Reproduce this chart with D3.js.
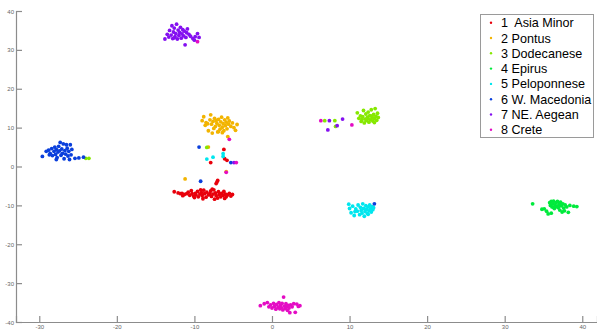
<!DOCTYPE html>
<html><head><meta charset="utf-8">
<script src="https://cdn.jsdelivr.net/npm/d3@7"></script>
<style>body{margin:0;background:#fff;}svg{display:block;}</style>
</head><body>
<svg id="c" width="597" height="329"></svg>
<script>
const seriesNames = ["1  Asia Minor","2 Pontus","3 Dodecanese","4 Epirus","5 Peloponnese","6 W. Macedonia","7 NE. Aegean","8 Crete"];
const seriesColors = ["#e8000b","#f2b400","#86e800","#00ea3c","#00e6ee","#0a3fdc","#8410f0","#e40cc4"];
const xTicks = [-30,-20,-10,0,10,20,30,40];
const yTicks = [40,30,20,10,0,-10,-20,-30,-40];

const asiaMinor = [[-12.6,-6.5],[-12.1,-6.8],[-11.8,-7.0],[-11.6,-6.9],[-11.3,-7.2],[-11.0,-7.0],[-10.8,-6.6],[-10.6,-7.4],[-10.4,-6.2],[-10.3,-7.0],[-10.1,-7.6],[-9.9,-6.9],[-9.8,-7.3],[-9.6,-6.4],[-9.5,-7.8],[-9.3,-7.1],[-9.1,-6.7],[-9.0,-7.5],[-8.8,-6.1],[-8.7,-7.0],[-8.5,-7.9],[-8.4,-6.6],[-8.2,-7.3],[-8.0,-7.0],[-7.9,-6.3],[-7.8,-7.7],[-7.6,-7.1],[-7.5,-6.0],[-7.3,-6.8],[-7.2,-7.5],[-7.0,-8.1],[-6.9,-6.5],[-6.8,-7.2],[-6.6,-7.8],[-6.5,-6.9],[-6.3,-7.4],[-6.2,-6.4],[-6.0,-7.1],[-5.9,-7.8],[-5.7,-7.3],[-5.5,-6.9],[-5.3,-7.6],[-5.1,-7.2],[-11.5,-7.5],[-10.0,-8.0],[-8.9,-8.3],[-7.4,-8.4],[-6.1,-8.2],[-9.2,-6.0],[-7.7,-5.8],
  [-6.2,4.4],[-6.1,2.0],[-5.8,1.6],[-7.9,1.0],[-7.1,-4.0],[-7.2,-4.4],[-7.0,-3.6]];
const pontus = [[-9.0,11.8],[-8.8,12.8],[-8.6,10.6],[-8.5,11.3],[-8.2,9.2],[-8.0,12.0],[-7.9,13.3],[-7.8,10.9],[-7.6,11.6],[-7.5,9.8],[-7.4,12.4],[-7.3,10.3],[-7.1,11.1],[-7.0,8.9],[-6.9,12.1],[-6.8,10.6],[-6.7,9.6],[-6.6,11.5],[-6.5,12.7],[-6.4,10.1],[-6.3,11.0],[-6.2,9.2],[-6.1,12.0],[-6.0,10.5],[-5.9,11.4],[-5.8,9.7],[-5.7,12.5],[-5.6,10.9],[-5.5,11.7],[-5.3,10.3],[-5.1,11.2],[-4.9,10.0],[-4.7,9.3],[-4.5,10.8],[-7.7,8.6],[-6.9,9.0],[-8.3,11.0],[-7.2,11.8],[-6.4,8.7],
  [-11.2,-3.2],[-5.7,7.7],[-8.2,5.0],[-5.9,-1.3]];
const dodecanese = [[11.0,13.8],[11.2,12.4],[11.4,13.0],[11.5,11.6],[11.7,12.8],[11.8,14.4],[11.9,11.2],[12.0,12.2],[12.1,13.5],[12.2,11.8],[12.3,12.7],[12.4,14.0],[12.5,11.4],[12.6,13.1],[12.7,12.0],[12.8,14.6],[12.9,12.6],[13.0,11.7],[13.1,13.4],[13.2,12.3],[13.3,14.9],[13.4,12.9],[13.5,11.9],[13.6,13.7],[13.7,12.6],[12.4,12.3],[12.9,13.0],[11.6,12.1],[13.2,11.3],
  [6.8,11.8],[8.1,11.8],[8.2,10.3],[-24.0,2.1],[-23.6,2.1],[-8.4,4.9]];
const epirus = [[33.6,-9.6],[34.8,-11.0],[35.1,-10.9],[35.4,-11.5],[35.6,-12.2],[35.8,-9.3],[35.9,-10.0],[36.0,-9.0],[36.1,-10.4],[36.2,-9.6],[36.3,-8.9],[36.4,-10.8],[36.5,-9.9],[36.6,-9.3],[36.7,-10.3],[36.8,-9.0],[36.9,-10.6],[37.0,-9.7],[37.1,-11.2],[37.2,-9.2],[37.3,-10.1],[37.4,-11.7],[37.5,-9.6],[37.6,-10.7],[37.7,-11.4],[37.8,-9.9],[38.0,-10.4],[38.2,-11.8],[38.4,-10.0],[38.9,-10.2],[39.3,-10.3],[36.3,-10.5],[37.0,-10.2],[36.0,-12.0]];
const peloponnese = [[9.9,-9.7],[10.0,-10.8],[10.2,-11.9],[10.4,-10.2],[10.6,-12.6],[10.8,-10.9],[11.0,-11.5],[11.1,-9.9],[11.3,-12.4],[11.4,-10.5],[11.5,-11.3],[11.7,-9.6],[11.8,-10.8],[11.9,-12.8],[12.0,-11.6],[12.1,-10.1],[12.2,-11.0],[12.3,-12.1],[12.4,-10.4],[12.5,-11.4],[12.6,-9.9],[12.7,-10.9],[12.8,-11.7],[12.9,-10.3],[13.0,-11.1],[13.1,-10.6],[12.4,-12.3],[11.6,-12.0],[10.7,-11.6],
  [-8.4,1.9],[-7.6,2.4],[-6.3,3.3],[-6.3,2.6]];
const wMacedonia = [[-29.6,2.6],[-29.1,3.9],[-28.8,4.2],[-28.6,3.4],[-28.4,4.6],[-28.3,2.8],[-28.1,3.9],[-28.0,5.0],[-27.9,3.1],[-27.8,4.4],[-27.7,2.3],[-27.6,3.7],[-27.5,5.2],[-27.4,4.0],[-27.3,6.2],[-27.2,2.9],[-27.1,4.5],[-27.0,3.4],[-26.9,5.8],[-26.8,2.0],[-26.7,4.1],[-26.6,3.2],[-26.5,5.6],[-26.4,4.7],[-26.3,2.7],[-26.2,3.9],[-26.0,5.6],[-25.9,3.0],[-25.8,4.4],[-26.1,1.8],[-27.8,1.8],[-28.7,3.0],[-25.4,2.1],[-24.9,2.2],[-24.3,2.4],
  [-9.4,5.0],[-9.2,-3.8],[-5.3,1.0],[13.2,-9.6]];
const neAegean = [[-13.8,32.8],[-13.5,34.0],[-13.3,33.3],[-13.2,35.0],[-13.0,33.8],[-12.9,36.2],[-12.8,32.9],[-12.7,34.6],[-12.6,35.6],[-12.5,33.4],[-12.4,34.2],[-12.3,36.6],[-12.2,32.8],[-12.1,35.1],[-12.0,33.7],[-11.9,34.5],[-11.8,35.8],[-11.7,33.0],[-11.6,34.1],[-11.5,35.2],[-11.4,33.6],[-11.3,34.8],[-11.2,31.3],[-11.1,33.2],[-11.0,34.4],[-10.9,35.4],[-10.7,34.0],[-10.5,33.5],[-10.2,32.9],[-9.9,33.4],[-9.6,34.2],[-9.4,33.2],[-10.0,32.5],[-12.6,33.1],
  [7.4,11.8],[7.2,9.4],[9.1,12.2],[8.4,10.5],[-4.9,1.0]];
const crete = [[-1.5,-35.8],[-1.0,-35.3],[-0.6,-35.0],[-0.4,-36.1],[-0.2,-35.6],[0.0,-36.4],[0.2,-35.2],[0.3,-36.0],[0.5,-36.7],[0.6,-35.5],[0.8,-36.2],[0.9,-35.0],[1.0,-36.6],[1.1,-35.7],[1.2,-36.3],[1.3,-35.2],[1.4,-36.9],[1.5,-33.6],[1.6,-35.9],[1.7,-36.5],[1.8,-35.3],[1.9,-36.1],[2.0,-37.0],[2.1,-35.7],[2.2,-36.4],[2.4,-35.6],[2.6,-36.1],[2.8,-35.3],[3.0,-37.5],[3.2,-35.4],[3.4,-36.0],[3.6,-35.8],[2.3,-37.6],
  [-9.6,32.1],[6.3,11.8],[10.3,10.7],[-5.5,7.0],[-5.9,-1.5],[-4.6,1.0]];

const seriesData = [asiaMinor,pontus,dodecanese,epirus,peloponnese,wMacedonia,neAegean,crete];

const svg = d3.select("#c");
const x = d3.scaleLinear().domain([-33, 41.9]).range([16, 597]);
const y = d3.scaleLinear().domain([-40, 40]).range([322, 11]);
const axisColor = "#8c8c8c";
const fmt = d => String(d);

const gx = svg.append("g").attr("transform","translate(0,322)")
  .call(d3.axisBottom(x).tickValues(xTicks).tickSize(-6).tickPadding(3).tickFormat(fmt));
const gy = svg.append("g").attr("transform","translate(16,0)")
  .call(d3.axisLeft(y).tickValues(yTicks).tickSize(-6).tickPadding(2).tickFormat(fmt));
[gx,gy].forEach(g=>{
  g.select(".domain").attr("stroke",axisColor).attr("stroke-width",1.2);
  g.selectAll(".tick line").attr("stroke",axisColor).attr("stroke-width",1.2);
  g.selectAll(".tick text").attr("fill","#666").attr("font-family","Liberation Sans, Arial, sans-serif").attr("font-size",6);
});
gy.selectAll(".tick text").attr("dy","0.35em");
gx.selectAll(".tick text").attr("dy","0.6em");

seriesData.forEach((pts,i)=>{
  svg.append("g").selectAll("circle").data(pts).join("circle")
    .attr("cx",d=>x(d[0])).attr("cy",d=>y(d[1])).attr("r",1.9)
    .attr("fill",seriesColors[i]);
});

const lg = svg.append("g");
lg.append("rect").attr("x",480.5).attr("y",14.5).attr("width",113).attr("height",123)
  .attr("fill","#fff").attr("stroke","#9a9a9a").attr("stroke-width",1);
seriesNames.forEach((n,i)=>{
  const cy = 22.7 + i*15.3;
  lg.append("circle").attr("cx",491).attr("cy",cy).attr("r",1.2).attr("fill",seriesColors[i]);
  lg.append("text").attr("x",501).attr("y",cy).attr("dy","0.36em")
    .attr("font-family","Liberation Sans, Arial, sans-serif").attr("font-size",12.6)
    .attr("fill","#000").style("white-space","pre").text(n);
});
</script>
</body></html>
